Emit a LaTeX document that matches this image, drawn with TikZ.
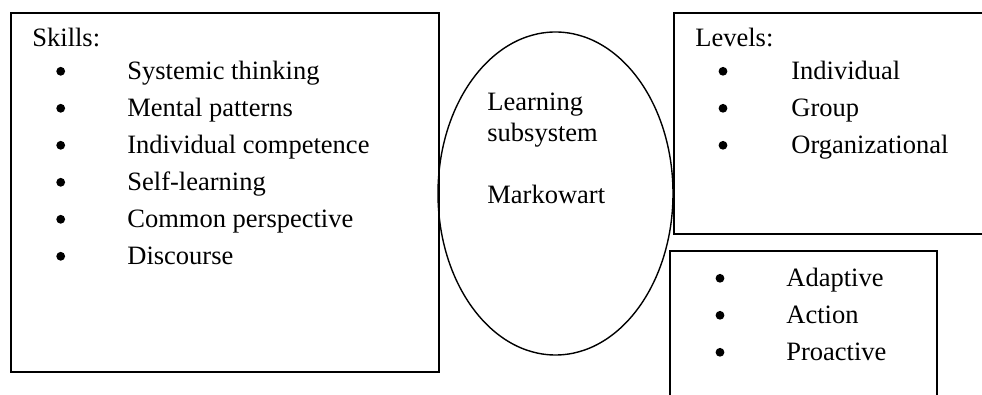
\documentclass[tikz,border=0pt]{standalone}
\usepackage{fontspec}
\setmainfont{Liberation Serif}
\usetikzlibrary{shapes.geometric,fit}
\begin{document}
\begin{tikzpicture}[x=0.5pt,y=-0.5pt,
  box/.style={draw, line width=1pt, inner sep=0pt},
  oval/.style={draw, ellipse, line width=0.7pt, inner sep=0pt,
    minimum width=117.5pt, minimum height=161.5pt},
  dot/.style={circle, fill, inner sep=0pt, minimum size=4.4pt},
  txt/.style={anchor=base west, inner sep=0pt, font=\fontsize{13.25}{16}\selectfont}]
\useasboundingbox (0,0) rectangle (982,395);
\clip (0,0) rectangle (982,395);
% boxes
\node[box, fit={(11,13) (439,372)}] (skills) {};
\node[box, fit={(674,13) (992,234)}] (levels) {};
\node[box, fit={(670,251) (937,402)}] (types) {};
\node[oval] (learn) at (555.5,193.5) {};
% skills
\node[txt] (skh) at (32,47) {Skills:};
\foreach \y/\t [count=\i] in {80/Systemic thinking,117/Mental patterns,154/Individual competence,191/Self-learning,228/Common perspective,265/Discourse}{
  \node[dot] (sb\i) at (60.7,\y-8.7) {};
  \node[txt] (si\i) at (127,\y) {\t};
}
% ellipse text
\node[txt] (l1) at (487,111) {Learning};
\node[txt] (l2) at (487,142) {subsystem};
\node[txt] (l3) at (487,204) {Markowart};
% levels
\node[txt] (lvh) at (695,47) {Levels:};
\foreach \y/\t [count=\i] in {80/Individual,117/Group,154/Organizational}{
  \node[dot] (lb\i) at (723,\y-8.7) {};
  \node[txt] (li\i) at (791,\y) {\t};
}
% types
\foreach \y/\t [count=\i] in {287/Adaptive,324/Action,361/Proactive}{
  \node[dot] (tb\i) at (720,\y-8.7) {};
  \node[txt] (ti\i) at (786,\y) {\t};
}
\end{tikzpicture}
\end{document}
